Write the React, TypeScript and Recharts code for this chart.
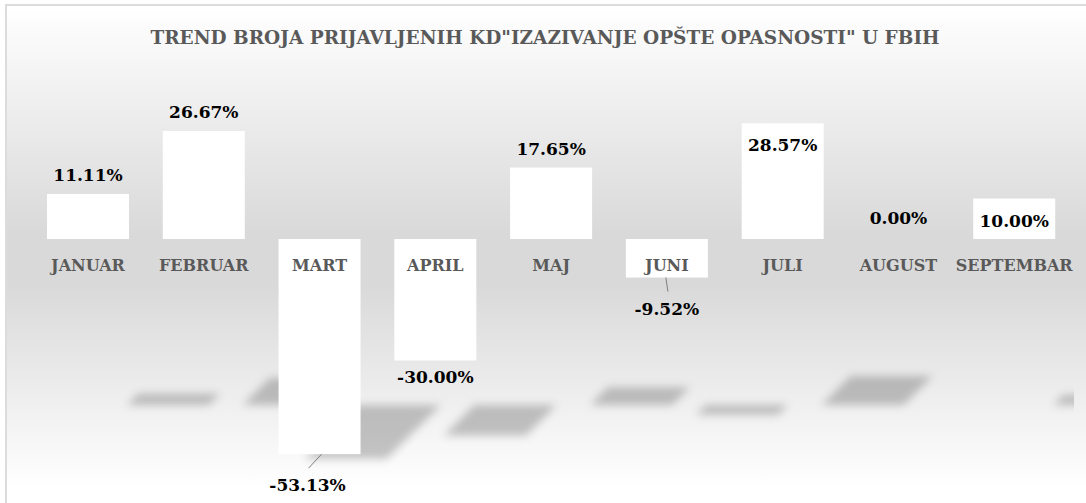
import React from 'react';
import { BarChart, Bar, XAxis, YAxis, LabelList } from 'recharts';

// monthly change of reported cases (%)
const months = ['JANUAR', 'FEBRUAR', 'MART', 'APRIL', 'MAJ', 'JUNI', 'JULI', 'AUGUST', 'SEPTEMBAR'];
const changes = [11.11, 26.67, -53.13, -30.0, 17.65, -9.52, 28.57, 0.0, 10.0];
const yDomain = [-60, 40];

const TITLE = 'TREND BROJA PRIJAVLJENIH KD"IZAZIVANJE OPŠTE OPASNOSTI" U FBIH';
const FONT = '"DejaVu Serif", Cambria, serif';

// label placement tweaks, the way Excel had them
const insideLabels = ['JULI', 'SEPTEMBAR'];
const leaderLabels: Record<string, number> = { MART: -12, JUNI: 0 };

const data = months.map((m, i) => ({ month: m, change: changes[i] }));

const edges = (y: number, h: number, v: number) => {
  const top = Math.min(y, y + h);
  const bottom = Math.max(y, y + h);
  const zero = v >= 0 ? bottom : top;
  return { top, bottom, zero };
};

// white bar plus a soft perspective shadow on the "floor"
const ShadowBar = (props: any) => {
  const { x, y, width, height, value, index } = props;
  const { top, bottom, zero } = edges(y, height, value);
  if (bottom - top < 0.5) return <g />;
  const floor = zero + 166;
  const k = 0.25;
  const map = (px: number, py: number) => {
    const sy = floor + (py - zero) * k;
    const sx = px + 80 + (floor - sy) * 1.0;
    return `${sx},${sy}`;
  };
  const pts = [
    map(x, top),
    map(x + width, top),
    map(x + width, bottom),
    map(x, bottom),
  ].join(' ');
  const fid = `shsoft${index}`;
  const cid = `shclip${index}`;
  return (
    <g>
      <defs>
        <filter
          id={fid}
          filterUnits="userSpaceOnUse"
          x={0}
          y={0}
          width={1100}
          height={520}
        >
          <feGaussianBlur in="SourceGraphic" stdDeviation={4} />
        </filter>
        <clipPath id={cid}>
          <rect x={0} y={0} width={1067} height={500} />
        </clipPath>
      </defs>
      <g clipPath={`url(#${cid})`}>
        <g filter={`url(#${fid})`}>
          <polygon points={pts} fill="#000" fillOpacity={0.22} />
        </g>
      </g>
      <rect x={x} y={top} width={width} height={bottom - top} fill="#ffffff" />
    </g>
  );
};

const ValueLabel = (props: any) => {
  const { x, y, width, height, value, index } = props;
  const month = months[index];
  const { top, bottom } = edges(y, height, value);
  const cx = x + width / 2;
  let ty = 0;
  let tx = cx;
  let leader: React.ReactNode = null;
  if (value > 0) {
    ty = insideLabels.includes(month) ? top + 22 : top - 19;
  } else if (value === 0) {
    ty = top - 21;
  } else if (month in leaderLabels) {
    tx = cx + leaderLabels[month];
    ty = bottom + 31;
    leader = (
      <line
        x1={cx + (leaderLabels[month] < 0 ? 2 : -1)}
        y1={bottom}
        x2={cx + (leaderLabels[month] < 0 ? -11 : 1)}
        y2={bottom + 14}
        stroke="#7f7f7f"
        strokeWidth={1}
      />
    );
  } else {
    ty = bottom + 16;
  }
  return (
    <g>
      {leader}
      <text
        x={tx}
        y={ty}
        textAnchor="middle"
        dominantBaseline="central"
        fontFamily={FONT}
        fontWeight="bold"
        fontSize={17}
        fill="#000000"
      >
        {`${Number(value).toFixed(2)}%`}
      </text>
    </g>
  );
};

const MonthLabel = (props: any) => {
  const { x, y, width, height, index } = props;
  const { zero } = edges(y, height, changes[index]);
  return (
    <text
      x={x + width / 2}
      y={zero + 26}
      textAnchor="middle"
      dominantBaseline="central"
      fontFamily={FONT}
      fontWeight="bold"
      fontSize={16}
      fill="#595959"
    >
      {months[index]}
    </text>
  );
};

export default function App() {
  return (
    <div
      style={{
        position: 'fixed',
        left: 0,
        top: 0,
        width: 1086,
        height: 503,
        overflow: 'hidden',
        background: '#ffffff',
      }}
    >
      <div
        style={{
          position: 'absolute',
          left: 5,
          top: 4,
          width: 1081,
          height: 499,
          boxSizing: 'border-box',
          borderLeft: '2px solid #dcdcdc',
          borderTop: '2px solid #dcdcdc',
          background:
            'linear-gradient(to bottom, #ffffff 0%, #d9d9d9 46%, #d9d9d9 56%, #ffffff 97%)',
        }}
      >
        <div
          style={{
            position: 'absolute',
            left: 0,
            top: 21,
            width: 1076,
            textAlign: 'center',
            fontFamily: FONT,
            fontWeight: 'bold',
            fontSize: 18.5,
            color: '#595959',
            whiteSpace: 'nowrap',
          }}
        >
          {TITLE}
        </div>
        <BarChart
          width={1079}
          height={497}
          data={data}
          margin={{ top: 71, right: 14, left: 23, bottom: 21 }}
          barSize={82}
        >
          <XAxis dataKey="month" hide />
          <YAxis domain={yDomain} hide />
          <Bar dataKey="change" shape={ShadowBar} isAnimationActive={false}>
            <LabelList dataKey="change" content={ValueLabel} />
            <LabelList dataKey="month" content={MonthLabel} />
          </Bar>
        </BarChart>
      </div>
    </div>
  );
}
